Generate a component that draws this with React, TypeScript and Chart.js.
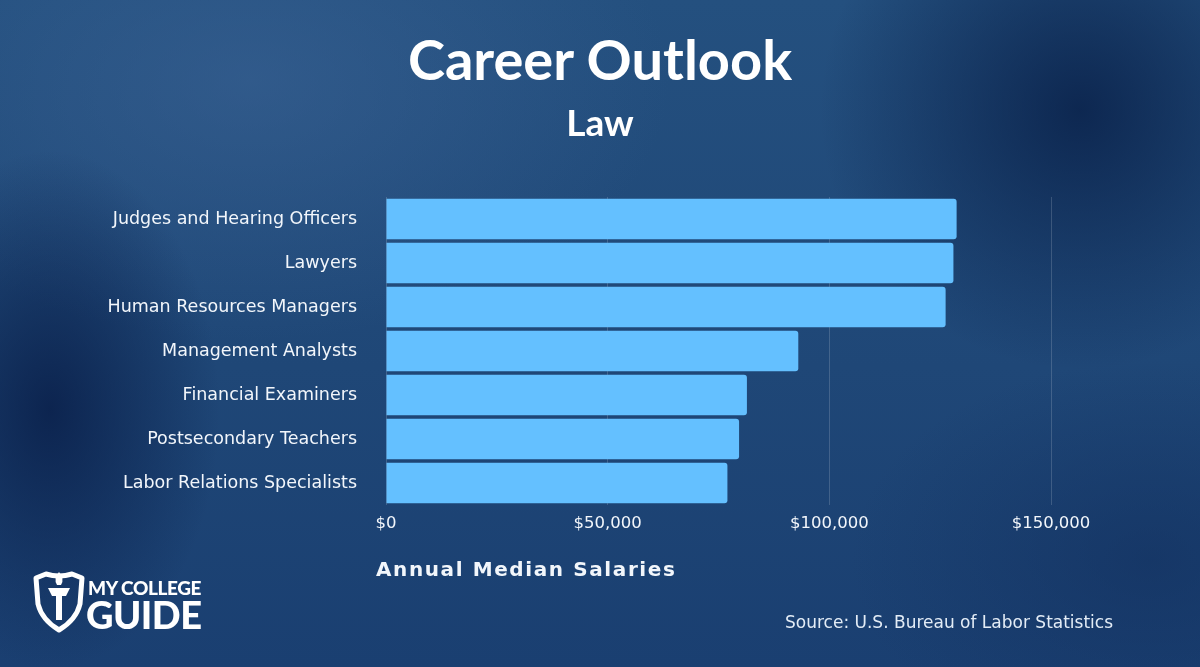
import React, { useEffect, useRef } from "react";
import { Chart, registerables } from "chart.js";

Chart.register(...registerables);

const categories = [
  "Judges and Hearing Officers",
  "Lawyers",
  "Human Resources Managers",
  "Management Analysts",
  "Financial Examiners",
  "Postsecondary Teachers",
  "Labor Relations Specialists",
];
const salaries = [128710, 127990, 126230, 93000, 81410, 79640, 77010];
const xTickValues = [0, 50000, 100000, 150000];

const titleText = "Career Outlook";
const subtitleText = "Law";
const axisTitleText = "Annual Median Salaries";
const sourceText = "Source: U.S. Bureau of Labor Statistics";

const LABEL_FONT = "'DejaVu Sans', 'Open Sans', sans-serif";
const TITLE_FONT = "Lato, 'Open Sans', sans-serif";

export default function App() {
  const canvasRef = useRef<HTMLCanvasElement | null>(null);

  useEffect(() => {
    const canvas = canvasRef.current;
    if (!canvas) return;
    const chart = new Chart(canvas, {
      type: "bar",
      data: {
        labels: categories,
        datasets: [
          {
            data: salaries,
            backgroundColor: "#64c0ff",
            borderWidth: 0,
            borderRadius: 3,
            borderSkipped: "start",
            barPercentage: 0.92,
            categoryPercentage: 1,
          },
        ],
      },
      options: {
        indexAxis: "y",
        responsive: false,
        animation: false,
        maintainAspectRatio: false,
        layout: { padding: { left: 20, right: 149, top: 197, bottom: 0 } },
        plugins: {
          legend: { display: false },
          tooltip: { enabled: false },
        },
        scales: {
          x: {
            min: 0,
            max: 150000,
            afterBuildTicks: (scale: any) => {
              scale.ticks = xTickValues.map((v) => ({ value: v }));
            },
            afterFit: (scale: any) => {
              scale.height = 162;
            },
            border: { display: false },
            grid: {
              color: "rgba(255,255,255,0.16)",
              lineWidth: 1,
              drawTicks: false,
            },
            ticks: {
              padding: 9,
              color: "#f2f6fb",
              font: { family: LABEL_FONT, size: 16.5 },
              callback: (v: any) => "$" + Number(v).toLocaleString("en-US"),
            },
          },
          y: {
            afterFit: (scale: any) => {
              scale.width = 366;
            },
            border: { display: false },
            grid: { display: false, drawTicks: false },
            ticks: {
              padding: 29,
              color: "#f2f6fb",
              font: { family: LABEL_FONT, size: 17.5 },
            },
          },
        },
      },
    });
    return () => chart.destroy();
  }, []);

  return (
    <div
      style={{
        position: "absolute",
        left: 0,
        top: 0,
        width: 1200,
        height: 667,
        overflow: "hidden",
        background:
          "radial-gradient(ellipse 260px 260px at 1080px 110px, rgba(8,30,70,0.8), rgba(8,30,70,0) 100%)," +
          "radial-gradient(ellipse 170px 260px at 50px 410px, rgba(8,28,70,0.8), rgba(8,28,70,0) 100%)," +
          "radial-gradient(ellipse 420px 260px at 250px 80px, rgba(60,100,150,0.55), rgba(60,100,150,0) 100%)," +
          "radial-gradient(ellipse 300px 200px at 1150px 560px, rgba(18,48,95,0.6), rgba(18,48,95,0) 100%)," +
          "linear-gradient(180deg, #24507f 0%, #1f4777 55%, #1a3f71 100%)",
      }}
    >
      <canvas
        ref={canvasRef}
        width={1200}
        height={667}
        style={{ position: "absolute", left: 0, top: 0, width: 1200, height: 667 }}
      />
      <div
        style={{
          position: "absolute",
          left: 0,
          width: 1200,
          top: 26,
          textAlign: "center",
          color: "#ffffff",
          fontFamily: TITLE_FONT,
          fontWeight: 700,
          fontSize: 56,
          lineHeight: "66px",
        }}
      >
        {titleText}
      </div>
      <div
        style={{
          position: "absolute",
          left: 0,
          width: 1200,
          top: 100,
          textAlign: "center",
          color: "#ffffff",
          fontFamily: TITLE_FONT,
          fontWeight: 700,
          fontSize: 37,
          lineHeight: "44px",
        }}
      >
        {subtitleText}
      </div>
      <div
        style={{
          position: "absolute",
          left: 376,
          top: 556,
          color: "#f2f6fb",
          fontFamily: LABEL_FONT,
          fontWeight: 700,
          fontSize: 20,
          letterSpacing: "1.6px",
          lineHeight: "26px",
        }}
      >
        {axisTitleText}
      </div>
      <div
        style={{
          position: "absolute",
          left: 785,
          top: 610,
          color: "#e3ecf6",
          fontFamily: LABEL_FONT,
          fontSize: 17,
          lineHeight: "24px",
        }}
      >
        {sourceText}
      </div>
      <svg
        style={{ position: "absolute", left: 32, top: 568 }}
        width={54}
        height={66}
        viewBox="0 0 54 66"
      >
        <path
          d="M4 10 L14 6 Q27 10 40 6 L50 10 L48 36 Q44 52 27 62 Q10 52 6 36 Z"
          fill="none"
          stroke="#ffffff"
          strokeWidth={5}
          strokeLinejoin="round"
        />
        <path d="M16 20 L38 20 L34 28 L30 28 L30 52 L24 52 L24 28 L20 28 Z" fill="#ffffff" />
        <path d="M27 4 Q21 10 25 17 L29 17 Q33 10 27 4 Z" fill="#ffffff" />
      </svg>
      <div
        style={{
          position: "absolute",
          left: 88,
          top: 577,
          color: "#ffffff",
          fontFamily: TITLE_FONT,
          fontWeight: 900,
          fontSize: 19,
          lineHeight: "22px",
          letterSpacing: "-0.4px",
        }}
      >
        MY COLLEGE
      </div>
      <div
        style={{
          position: "absolute",
          left: 86,
          top: 594,
          color: "#ffffff",
          fontFamily: TITLE_FONT,
          fontWeight: 900,
          fontSize: 38,
          lineHeight: "40px",
          letterSpacing: "-0.5px",
        }}
      >
        GUIDE
      </div>
    </div>
  );
}
